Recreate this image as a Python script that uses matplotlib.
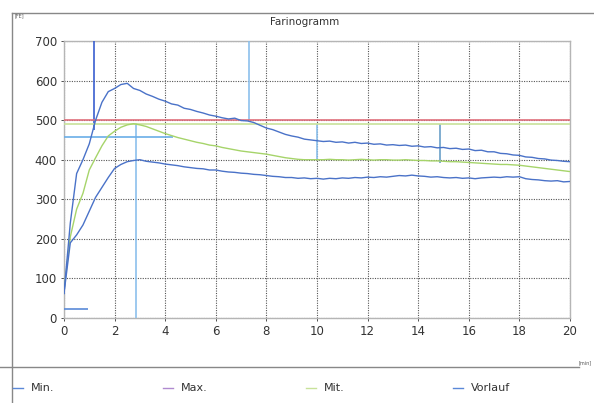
import matplotlib.pyplot as plt
import numpy as np
from matplotlib.lines import Line2D

# Zeitachse in Minuten, Schritt 0.25
zeit = np.arange(0, 20.01, 0.25)

# obere Kurve (Max.)
kurve_max = [62, 240, 365, 400,
             440, 500, 545, 572,
             580, 590, 593, 580,
             575, 566, 560, 553,
             548, 541, 538, 530,
             527, 522, 518, 513,
             510, 506, 503, 505,
             499, 498, 494, 487,
             480, 476, 470, 464,
             460, 457, 452, 450,
             448, 446, 447, 444,
             445, 442, 444, 441,
             442, 439, 440, 437,
             438, 436, 437, 434,
             435, 432, 433, 430,
             431, 428, 429, 426,
             427, 423, 424, 420,
             420, 416, 415, 412,
             411, 407, 406, 403,
             402, 399, 398, 396,
             395]

# untere Kurve (Min.)
kurve_min = [62, 190, 210, 235,
             270, 305, 330, 355,
             378, 388, 395, 398,
             400, 396, 394, 392,
             389, 387, 385, 382,
             380, 378, 377, 374,
             374, 371, 369, 368,
             366, 365, 363, 362,
             360, 358, 357, 355,
             355, 353, 354, 352,
             353, 351, 353, 352,
             354, 353, 355, 354,
             356, 355, 357, 356,
             358, 360, 359, 361,
             359, 358, 356, 357,
             355, 354, 355, 353,
             354, 352, 354, 355,
             356, 355, 357, 356,
             357, 352, 350, 349,
             347, 346, 347, 344,
             345]

# Mittelwert (Mit.)
kurve_mit = [70, 205, 275, 315,
             374, 405, 435, 460,
             472, 482, 488, 491,
             488, 484, 478, 472,
             466, 461, 456, 452,
             448, 444, 441, 437,
             435, 431, 428, 425,
             422, 420, 418, 416,
             414, 411, 408, 405,
             403, 401, 400, 400,
             400, 400, 401, 400,
             400, 399, 400, 401,
             400, 399, 400, 400,
             399, 399, 400, 399,
             398, 398, 397, 397,
             396, 395, 395, 394,
             393, 392, 391, 390,
             389, 388, 388, 387,
             386, 384, 382, 380,
             378, 376, 374, 372,
             370]

# Markierungslinien
senk_x = [1.2, 2.85, 7.3, 10.0, 14.85]
senk_von = [475, 0, 500, 400, 392]
senk_bis = [700, 492, 700, 490, 490]
senk_farbe = ['#3a5fd0', '#8cc0ec', '#8cc0ec', '#8cc0ec', '#6aa0c8']

waag_y = [500, 490, 457, 23]
waag_von = [0, 0, 0, 0]
waag_bis = [20, 20, 4.3, 0.95]
waag_farbe = ['#e0707c', '#c8e29a', '#6aaee8', '#5a8ad8']

legende = ['Min.', 'Max.', 'Mit.', 'Vorlauf']
legende_farbe = ['#5a88d8', '#b08ad0', '#c8e29a', '#5a88d8']

xticks = list(range(0, 21, 2))
yticks = list(range(0, 701, 100))

fig = plt.figure(figsize=(5.94, 4.03), dpi=100)
ax = fig.add_axes([0.1077, 0.2109, 0.8519, 0.6874])

ax.grid(True, color='#555555', linestyle=(0, (1, 1.2)), linewidth=0.8)
ax.set_axisbelow(True)

for x, y0, y1, c in zip(senk_x, senk_von, senk_bis, senk_farbe):
    ax.vlines(x, y0, y1, color=c, linewidth=1.2, zorder=3)
for y, x0, x1, c in zip(waag_y, waag_von, waag_bis, waag_farbe):
    ax.hlines(y, x0, x1, color=c, linewidth=1.2, zorder=3)

ax.plot(zeit, kurve_mit, color='#a6d46a', linewidth=1.0, zorder=4)
ax.plot(zeit, kurve_max, color='#4a72c8', linewidth=1.0, zorder=5)
ax.plot(zeit, kurve_min, color='#4a72c8', linewidth=1.0, zorder=5)

ax.set_xlim(0, 20)
ax.set_ylim(0, 700)
ax.set_xticks(xticks)
ax.set_yticks(yticks)
ax.tick_params(labelsize=8.5, colors='#333333', length=2, width=0.6, pad=3)
for s in ax.spines.values():
    s.set_color('#b5b5b5')
    s.set_linewidth(1.0)

fig.text(0.513, 0.945, 'Farinogramm', ha='center', va='center', fontsize=7.5, color='#333333')
fig.text(0.024, 0.962, '[FE]', ha='left', va='center', fontsize=3.5, color='#555555')
fig.text(0.997, 0.100, '[min]', ha='right', va='center', fontsize=3.5, color='#555555')

# Rahmen
fig.add_artist(Line2D([0.020, 1.0], [0.968, 0.968], color='#888888', linewidth=1.0))
fig.add_artist(Line2D([0.020, 0.020], [0.0, 0.968], color='#888888', linewidth=1.0))
fig.add_artist(Line2D([0.0, 0.975], [0.089, 0.089], color='#888888', linewidth=1.0))

# Legende unten
leg_x = [0.022, 0.274, 0.515, 0.763]
for x, name, c in zip(leg_x, legende, legende_farbe):
    fig.add_artist(Line2D([x, x + 0.017], [0.037, 0.037], color=c, linewidth=1.0))
    fig.text(x + 0.030, 0.037, name, ha='left', va='center', fontsize=8, color='#333333')

fig.savefig('out.png', dpi=100)
